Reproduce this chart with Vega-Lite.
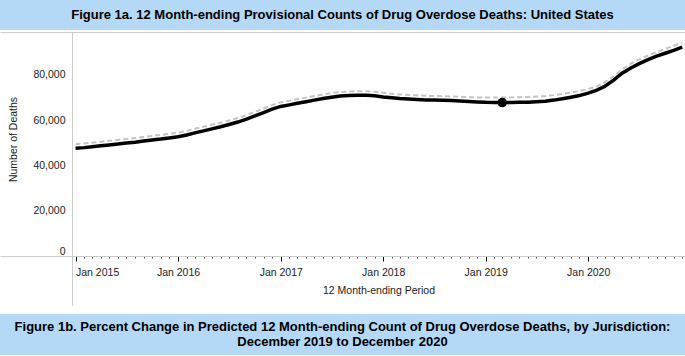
{
  "$schema": "https://vega.github.io/schema/vega-lite/v6.json",
  "padding": 0,
  "background": "white",
  "config": {
    "view": {"stroke": null},
    "axis": {"labelFont": "Liberation Sans", "titleFont": "Liberation Sans", "labelColor": "#222", "titleColor": "#222", "titleFontWeight": "normal", "labelFontSize": 10.5, "titleFontSize": 10.5}
  },
  "spacing": 2,
  "vconcat": [
    {
      "width": 685,
      "height": 30,
      "view": {"fill": "#b3d9f7", "stroke": null},
      "data": {"values": [{"t": "Figure 1a. 12 Month-ending Provisional Counts of Drug Overdose Deaths: United States"}]},
      "mark": {"type": "text", "font": "Liberation Sans", "fontSize": 13, "fontWeight": "bold", "color": "#000", "baseline": "middle", "align": "center"},
      "encoding": {"text": {"field": "t"}}
    },
    {
      "spacing": 3,
      "vconcat": [
        {
          "width": 685,
          "height": 224,
          "data": {"values": [
            {"month": "2015-01-01T00:00", "reported": 47600, "predicted": 49400},
            {"month": "2015-02-01T00:00", "reported": 47900, "predicted": 49700},
            {"month": "2015-03-01T00:00", "reported": 48300, "predicted": 50100},
            {"month": "2015-04-01T00:00", "reported": 48700, "predicted": 50500},
            {"month": "2015-05-01T00:00", "reported": 49100, "predicted": 50900},
            {"month": "2015-06-01T00:00", "reported": 49500, "predicted": 51300},
            {"month": "2015-07-01T00:00", "reported": 49900, "predicted": 51700},
            {"month": "2015-08-01T00:00", "reported": 50300, "predicted": 52100},
            {"month": "2015-09-01T00:00", "reported": 50800, "predicted": 52600},
            {"month": "2015-10-01T00:00", "reported": 51300, "predicted": 53100},
            {"month": "2015-11-01T00:00", "reported": 51700, "predicted": 53500},
            {"month": "2015-12-01T00:00", "reported": 52200, "predicted": 54000},
            {"month": "2016-01-01T00:00", "reported": 52700, "predicted": 54500},
            {"month": "2016-02-01T00:00", "reported": 53500, "predicted": 55300},
            {"month": "2016-03-01T00:00", "reported": 54400, "predicted": 56200},
            {"month": "2016-04-01T00:00", "reported": 55300, "predicted": 57100},
            {"month": "2016-05-01T00:00", "reported": 56200, "predicted": 58000},
            {"month": "2016-06-01T00:00", "reported": 57100, "predicted": 58900},
            {"month": "2016-07-01T00:00", "reported": 58100, "predicted": 59900},
            {"month": "2016-08-01T00:00", "reported": 59200, "predicted": 61000},
            {"month": "2016-09-01T00:00", "reported": 60500, "predicted": 62300},
            {"month": "2016-10-01T00:00", "reported": 61900, "predicted": 63700},
            {"month": "2016-11-01T00:00", "reported": 63400, "predicted": 65200},
            {"month": "2016-12-01T00:00", "reported": 64900, "predicted": 66700},
            {"month": "2017-01-01T00:00", "reported": 66100, "predicted": 67900},
            {"month": "2017-02-01T00:00", "reported": 66800, "predicted": 68600},
            {"month": "2017-03-01T00:00", "reported": 67500, "predicted": 69300},
            {"month": "2017-04-01T00:00", "reported": 68200, "predicted": 70000},
            {"month": "2017-05-01T00:00", "reported": 68900, "predicted": 70700},
            {"month": "2017-06-01T00:00", "reported": 69600, "predicted": 71400},
            {"month": "2017-07-01T00:00", "reported": 70200, "predicted": 72000},
            {"month": "2017-08-01T00:00", "reported": 70700, "predicted": 72500},
            {"month": "2017-09-01T00:00", "reported": 70900, "predicted": 72700},
            {"month": "2017-10-01T00:00", "reported": 71000, "predicted": 72800},
            {"month": "2017-11-01T00:00", "reported": 71000, "predicted": 72800},
            {"month": "2017-12-01T00:00", "reported": 70800, "predicted": 72600},
            {"month": "2018-01-01T00:00", "reported": 70300, "predicted": 72100},
            {"month": "2018-02-01T00:00", "reported": 69900, "predicted": 71700},
            {"month": "2018-03-01T00:00", "reported": 69600, "predicted": 71400},
            {"month": "2018-04-01T00:00", "reported": 69400, "predicted": 71200},
            {"month": "2018-05-01T00:00", "reported": 69200, "predicted": 71000},
            {"month": "2018-06-01T00:00", "reported": 69000, "predicted": 70800},
            {"month": "2018-07-01T00:00", "reported": 68900, "predicted": 70700},
            {"month": "2018-08-01T00:00", "reported": 68800, "predicted": 70600},
            {"month": "2018-09-01T00:00", "reported": 68700, "predicted": 70500},
            {"month": "2018-10-01T00:00", "reported": 68500, "predicted": 70300},
            {"month": "2018-11-01T00:00", "reported": 68300, "predicted": 70200},
            {"month": "2018-12-01T00:00", "reported": 68100, "predicted": 70100},
            {"month": "2019-01-01T00:00", "reported": 67900, "predicted": 70000},
            {"month": "2019-02-01T00:00", "reported": 67800, "predicted": 70000},
            {"month": "2019-03-01T00:00", "reported": 67800, "predicted": 70100},
            {"month": "2019-04-01T00:00", "reported": 67800, "predicted": 70100},
            {"month": "2019-05-01T00:00", "reported": 67900, "predicted": 70200},
            {"month": "2019-06-01T00:00", "reported": 68000, "predicted": 70300},
            {"month": "2019-07-01T00:00", "reported": 68200, "predicted": 70500},
            {"month": "2019-08-01T00:00", "reported": 68400, "predicted": 70700},
            {"month": "2019-09-01T00:00", "reported": 68900, "predicted": 71100},
            {"month": "2019-10-01T00:00", "reported": 69500, "predicted": 71600},
            {"month": "2019-11-01T00:00", "reported": 70200, "predicted": 72200},
            {"month": "2019-12-01T00:00", "reported": 70900, "predicted": 72900},
            {"month": "2020-01-01T00:00", "reported": 72000, "predicted": 73800},
            {"month": "2020-02-01T00:00", "reported": 73300, "predicted": 75000},
            {"month": "2020-03-01T00:00", "reported": 75000, "predicted": 76800},
            {"month": "2020-04-01T00:00", "reported": 77700, "predicted": 79500},
            {"month": "2020-05-01T00:00", "reported": 80800, "predicted": 82500},
            {"month": "2020-06-01T00:00", "reported": 83100, "predicted": 85000},
            {"month": "2020-07-01T00:00", "reported": 85000, "predicted": 86900},
            {"month": "2020-08-01T00:00", "reported": 86800, "predicted": 88600},
            {"month": "2020-09-01T00:00", "reported": 88300, "predicted": 90100},
            {"month": "2020-10-01T00:00", "reported": 89600, "predicted": 91500},
            {"month": "2020-11-01T00:00", "reported": 90900, "predicted": 92900},
            {"month": "2020-12-01T00:00", "reported": 92300, "predicted": 94300}
          ]},
          "transform": [{"fold": ["predicted", "reported"], "as": ["series", "deaths"]}],
          "encoding": {
            "x": {
              "field": "month",
              "type": "temporal",
              "scale": {"domain": [{"year": 2014, "month": 4, "date": 7}, {"year": 2020, "month": 12, "date": 11}]},
              "axis": {
                "title": "12 Month-ending Period",
                "titleX": 378.5,
                "titleY": 29,
                "titleBaseline": "top",
                "titleAlign": "center",
                "grid": false,
                "domainColor": "#cccccc",
                "labelFlush": false,
                "labelOverlap": false,
                "labelPadding": 6,
                "values": [
                  {"year": 2014, "month": 12, "date": 19},
                  {"year": 2015, "month": 1, "date": 1}, {"year": 2015, "month": 2, "date": 1}, {"year": 2015, "month": 3, "date": 1}, {"year": 2015, "month": 4, "date": 1}, {"year": 2015, "month": 5, "date": 1}, {"year": 2015, "month": 6, "date": 1}, {"year": 2015, "month": 7, "date": 1}, {"year": 2015, "month": 8, "date": 1}, {"year": 2015, "month": 9, "date": 1}, {"year": 2015, "month": 10, "date": 1}, {"year": 2015, "month": 11, "date": 1}, {"year": 2015, "month": 12, "date": 1},
                  {"year": 2016, "month": 1, "date": 1}, {"year": 2016, "month": 2, "date": 1}, {"year": 2016, "month": 3, "date": 1}, {"year": 2016, "month": 4, "date": 1}, {"year": 2016, "month": 5, "date": 1}, {"year": 2016, "month": 6, "date": 1}, {"year": 2016, "month": 7, "date": 1}, {"year": 2016, "month": 8, "date": 1}, {"year": 2016, "month": 9, "date": 1}, {"year": 2016, "month": 10, "date": 1}, {"year": 2016, "month": 11, "date": 1}, {"year": 2016, "month": 12, "date": 1},
                  {"year": 2017, "month": 1, "date": 1}, {"year": 2017, "month": 2, "date": 1}, {"year": 2017, "month": 3, "date": 1}, {"year": 2017, "month": 4, "date": 1}, {"year": 2017, "month": 5, "date": 1}, {"year": 2017, "month": 6, "date": 1}, {"year": 2017, "month": 7, "date": 1}, {"year": 2017, "month": 8, "date": 1}, {"year": 2017, "month": 9, "date": 1}, {"year": 2017, "month": 10, "date": 1}, {"year": 2017, "month": 11, "date": 1}, {"year": 2017, "month": 12, "date": 1},
                  {"year": 2018, "month": 1, "date": 1}, {"year": 2018, "month": 2, "date": 1}, {"year": 2018, "month": 3, "date": 1}, {"year": 2018, "month": 4, "date": 1}, {"year": 2018, "month": 5, "date": 1}, {"year": 2018, "month": 6, "date": 1}, {"year": 2018, "month": 7, "date": 1}, {"year": 2018, "month": 8, "date": 1}, {"year": 2018, "month": 9, "date": 1}, {"year": 2018, "month": 10, "date": 1}, {"year": 2018, "month": 11, "date": 1}, {"year": 2018, "month": 12, "date": 1},
                  {"year": 2019, "month": 1, "date": 1}, {"year": 2019, "month": 2, "date": 1}, {"year": 2019, "month": 3, "date": 1}, {"year": 2019, "month": 4, "date": 1}, {"year": 2019, "month": 5, "date": 1}, {"year": 2019, "month": 6, "date": 1}, {"year": 2019, "month": 7, "date": 1}, {"year": 2019, "month": 8, "date": 1}, {"year": 2019, "month": 9, "date": 1}, {"year": 2019, "month": 10, "date": 1}, {"year": 2019, "month": 11, "date": 1}, {"year": 2019, "month": 12, "date": 1},
                  {"year": 2020, "month": 1, "date": 1}, {"year": 2020, "month": 2, "date": 1}, {"year": 2020, "month": 3, "date": 1}, {"year": 2020, "month": 4, "date": 1}, {"year": 2020, "month": 5, "date": 1}, {"year": 2020, "month": 6, "date": 1}, {"year": 2020, "month": 7, "date": 1}, {"year": 2020, "month": 8, "date": 1}, {"year": 2020, "month": 9, "date": 1}, {"year": 2020, "month": 10, "date": 1}, {"year": 2020, "month": 11, "date": 1}, {"year": 2020, "month": 12, "date": 1}
                ],
                "labelExpr": "month(datum.value) == 0 ? timeFormat(datum.value, '%b %Y') : ''",
                "labelFontSize": {"condition": {"test": "month(datum.value) != 0", "value": 0}, "value": 10.5},
                "labelAlign": {"condition": {"test": "year(datum.value) == 2015", "value": "left"}, "value": "center"},
                "tickSize": {"condition": [{"test": "year(datum.value) < 2015", "value": 49}, {"test": "month(datum.value) == 0", "value": 5}], "value": 2},
                "tickColor": {"condition": [{"test": "year(datum.value) < 2015", "value": "#cccccc"}, {"test": "month(datum.value) == 0", "value": "#000000"}], "value": "#555555"},
                "tickWidth": 1
              }
            },
            "y": {
              "field": "deaths",
              "type": "quantitative",
              "scale": {"domain": [0, 99000], "nice": false},
              "axis": {
                "title": "Number of Deaths",
                "orient": "left",
                "offset": -72,
                "values": [0, 20000, 40000, 60000, 80000, 99000],
                "labelExpr": "datum.value == 99000 ? '' : format(datum.value, ',')",
                "labelFontSize": {"condition": {"test": "datum.value == 99000", "value": 0}, "value": 10.5},
                "labelFlush": true,
                "labelOverlap": false,
                "labelPadding": 7,
                "ticks": false,
                "grid": true,
                "gridColor": "#cccccc",
                "gridOpacity": {"condition": {"test": "datum.value == 99000", "value": 1}, "value": 0},
                "domainColor": "#cccccc",
                "titlePadding": 14,
                "titleY": 107
              }
            }
          },
          "layer": [
            {
              "transform": [{"filter": "datum.series == 'predicted'"}],
              "mark": {"type": "line", "color": "#c4c4c4", "strokeWidth": 2, "strokeDash": [5, 3]}
            },
            {
              "transform": [{"filter": "datum.series == 'reported'"}],
              "mark": {"type": "line", "color": "#000000", "strokeWidth": 3.5}
            },
            {
              "transform": [{"filter": "datum.series == 'reported' && year(datum.month) == 2019 && month(datum.month) == 2"}],
              "mark": {"type": "point", "filled": true, "color": "#000000", "opacity": 1, "size": 90}
            }
          ]
        },
        {
          "width": 685,
          "height": 41,
          "view": {"fill": "#b3d9f7", "stroke": null},
          "data": {"values": [{"t": "Figure 1b. Percent Change in Predicted 12 Month-ending Count of Drug Overdose Deaths, by Jurisdiction:\nDecember 2019 to December 2020"}]},
          "mark": {"type": "text", "font": "Liberation Sans", "fontSize": 13, "fontWeight": "bold", "color": "#000", "baseline": "middle", "align": "center", "lineBreak": "\n", "lineHeight": 15, "dy": -7.5},
          "encoding": {"text": {"field": "t"}}
        }
      ]
    }
  ]
}
